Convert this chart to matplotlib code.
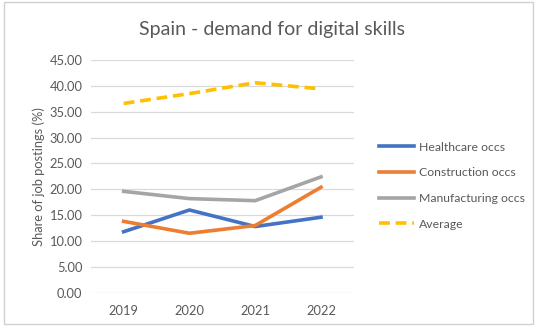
import matplotlib
matplotlib.use("Agg")
import matplotlib.pyplot as plt
from matplotlib.patches import Rectangle

years = ["2019", "2020", "2021", "2022"]
healthcare = [11.8, 16.0, 12.8, 14.6]
construction = [13.8, 11.5, 13.0, 20.4]
manufacturing = [19.6, 18.2, 17.8, 22.4]
average = [36.6, 38.5, 40.6, 39.4]

plt.rcParams["font.family"] = ["Lato", "DejaVu Sans"]
TXT = "#595959"

fig = plt.figure(figsize=(5.37, 3.26), dpi=100)
ax = fig.add_axes([0.169, 0.102, 0.490, 0.714])

x = range(len(years))
ax.plot(x, healthcare, color="#4472c4", lw=2.6, label="Healthcare occs")
ax.plot(x, construction, color="#ed7d31", lw=2.6, label="Construction occs")
ax.plot(x, manufacturing, color="#a5a5a5", lw=2.6, label="Manufacturing occs")
ax.plot(x, average, color="#ffc000", lw=2.6, ls=(0, (3, 1.6)), label="Average")

ax.set_xlim(-0.5, len(years) - 0.5)
ax.set_ylim(0, 45)
ax.set_yticks(range(0, 46, 5))
ax.set_yticklabels([f"{v:.2f}" for v in range(0, 46, 5)])
ax.set_xticks(list(x))
ax.set_xticklabels(years)
ax.tick_params(length=0, labelsize=9.3, colors=TXT, pad=6)
ax.tick_params(axis="x", pad=9)
ax.grid(True, axis="y", color="#d9d9d9", lw=0.9)
ax.set_axisbelow(True)
for s in ax.spines.values():
    s.set_visible(False)
ax.set_ylabel("Share of job postings (%)", fontsize=9.3, color=TXT, labelpad=3)

fig.suptitle("Spain - demand for digital skills", fontsize=14, color=TXT,
             x=0.507, y=0.935)

ax.legend(loc="center left", bbox_to_anchor=(1.055, 0.46), frameon=False,
          fontsize=8.8, labelcolor=TXT, handlelength=2.8, handletextpad=0.45,
          labelspacing=1.2)

fig.patches.append(Rectangle((0.008, 0.006), 0.984, 0.988, transform=fig.transFigure,
                             fill=False, edgecolor="#d0d0d0", lw=1))

fig.savefig("out.png", dpi=100)
